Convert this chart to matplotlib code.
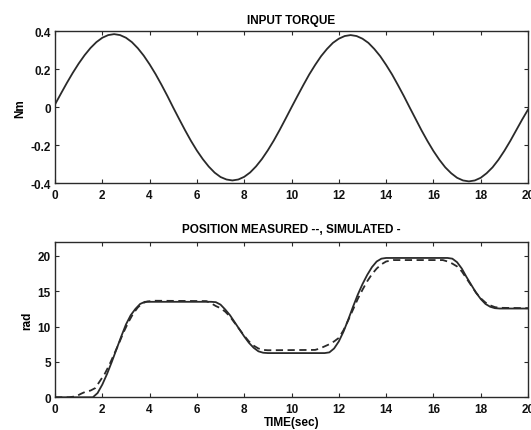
import numpy as np
import matplotlib
matplotlib.use("Agg")
from matplotlib import pyplot as plt

# input torque, sampled every 0.25 s
torque_t = np.arange(0, 20.25, 0.25)
torque = [0.015, 0.072, 0.128, 0.181, 0.230, 0.274, 0.312, 0.343, 0.366, 0.380, 0.385,
          0.380, 0.366, 0.343, 0.311, 0.272, 0.226, 0.175, 0.119, 0.060, -0.002,
          -0.062, -0.121, -0.177, -0.228, -0.273, -0.312, -0.344, -0.367, -0.380, -0.385,
          -0.380, -0.366, -0.343, -0.311, -0.272, -0.226, -0.175, -0.119, -0.060, 0.000,
          0.059, 0.117, 0.173, 0.223, 0.269, 0.307, 0.339, 0.361, 0.375, 0.380,
          0.375, 0.361, 0.339, 0.307, 0.269, 0.223, 0.173, 0.117, 0.059, -0.002,
          -0.062, -0.122, -0.178, -0.230, -0.276, -0.316, -0.347, -0.371, -0.385, -0.390,
          -0.385, -0.371, -0.347, -0.316, -0.276, -0.229, -0.177, -0.121, -0.065, -0.012]

# simulated position (solid)
sim_t = [0, 1.6, 1.8, 2.0, 2.2, 2.4, 2.6, 2.8, 3.0, 3.2, 3.4, 3.6, 3.8, 4.0,
         6.6, 6.8, 7.0, 7.2, 7.4, 7.6, 7.8, 8.0, 8.2, 8.4, 8.6, 8.8, 9.0,
         11.4, 11.6, 11.8, 12.0, 12.2, 12.4, 12.6, 12.8, 13.0, 13.2, 13.4, 13.6, 13.8, 14.0,
         16.6, 16.8, 17.0, 17.2, 17.4, 17.6, 17.8, 18.0, 18.2, 18.4, 18.6, 18.8, 20.0]
sim_pos = [0, 0, 0.6, 1.8, 3.3, 5.0, 6.8, 8.6, 10.3, 11.6, 12.5, 13.2, 13.5, 13.5,
           13.5, 13.45, 13.1, 12.4, 11.6, 10.6, 9.6, 8.6, 7.7, 7.0, 6.5, 6.3, 6.25,
           6.25, 6.35, 6.9, 7.9, 9.3, 11.0, 12.8, 14.5, 16.0, 17.3, 18.4, 19.2, 19.6, 19.7,
           19.7, 19.6, 19.1, 18.2, 17.0, 15.9, 14.8, 13.9, 13.2, 12.8, 12.6, 12.55, 12.55]

# measured position (dashed)
meas_t = [0, 0.6, 0.9, 1.1, 1.3, 1.5, 1.7, 1.9, 2.1, 2.3, 2.5, 2.7, 2.9, 3.1, 3.3, 3.5, 3.7, 3.9, 4.2,
          6.4, 6.6, 6.8, 7.0, 7.2, 7.4, 7.6, 7.8, 8.0, 8.2, 8.4, 8.6, 8.8, 9.0,
          11.0, 11.2, 11.4, 11.6, 11.8, 12.0, 12.2, 12.4, 12.6, 12.8, 13.0, 13.2, 13.4, 13.6, 13.8, 14.0, 14.3,
          16.4, 16.6, 16.8, 17.0, 17.2, 17.4, 17.6, 17.8, 18.0, 18.2, 18.4, 18.6, 18.8, 20.0]
meas_pos = [0, 0, 0.15, 0.5, 0.8, 0.95, 1.3, 2.3, 3.3, 4.6, 6.1, 7.6, 9.2, 10.6, 11.8, 12.7, 13.3, 13.55, 13.65,
            13.6, 13.3, 12.9, 12.6, 12.1, 11.4, 10.5, 9.6, 8.7, 7.9, 7.3, 6.9, 6.7, 6.65,
            6.7, 6.9, 7.2, 7.5, 7.9, 8.4, 9.5, 10.9, 12.4, 13.9, 15.2, 16.4, 17.4, 18.2, 18.8, 19.2, 19.4,
            19.4, 19.2, 18.9, 18.5, 17.8, 16.8, 15.8, 14.8, 14.0, 13.4, 13.0, 12.75, 12.65, 12.6]

plt.rcParams['font.family'] = 'Liberation Sans'
plt.rcParams['font.weight'] = 'bold'
plt.rcParams['axes.labelweight'] = 'bold'
plt.rcParams['axes.titleweight'] = 'bold'
plt.rcParams['font.size'] = 8.5
plt.rcParams['axes.unicode_minus'] = False
ink = '#2a2a2a'

fig = plt.figure(figsize=(5.31, 4.31), dpi=100)
ax1 = fig.add_axes([0.1036, 0.5724, 0.8908, 0.3527])
ax2 = fig.add_axes([0.1036, 0.0759, 0.8908, 0.3610])

ax1.plot(torque_t, torque, color=ink, lw=1.3)
ax1.set_xlim(0, 20)
ax1.set_ylim(-0.4, 0.4)
ax1.set_yticks([-0.4, -0.2, 0, 0.2, 0.4])
ax1.set_yticklabels(['-0.4', '-0.2', '0', '0.2', '0.4'])
ax1.set_title('INPUT TORQUE', fontsize=8.5, pad=6)
ax1.set_ylabel('Nm', labelpad=3)

ax2.plot(sim_t, sim_pos, color=ink, lw=1.3, ls='-')
ax2.plot(meas_t, meas_pos, color=ink, lw=1.3, ls=(0, (4, 2.5)))
ax2.set_xlim(0, 20)
ax2.set_ylim(0, 22)
ax2.set_yticks([0, 5, 10, 15, 20])
ax2.set_title('POSITION MEASURED --, SIMULATED -', fontsize=8.5, pad=7)
ax2.set_ylabel('rad', labelpad=3)
ax2.set_xlabel('TIME(sec)', labelpad=1)

for ax in (ax1, ax2):
    ax.set_xticks(range(0, 21, 2))
    ax.tick_params(direction='in', length=3, width=0.8, top=True, right=True,
                   colors=ink, labelcolor='#111111')
    ax.tick_params(axis='x', pad=4)
    ax.tick_params(axis='y', pad=3)
    for s in ax.spines.values():
        s.set_color(ink)
        s.set_linewidth(1.0)

fig.savefig('out.png', dpi=100)
